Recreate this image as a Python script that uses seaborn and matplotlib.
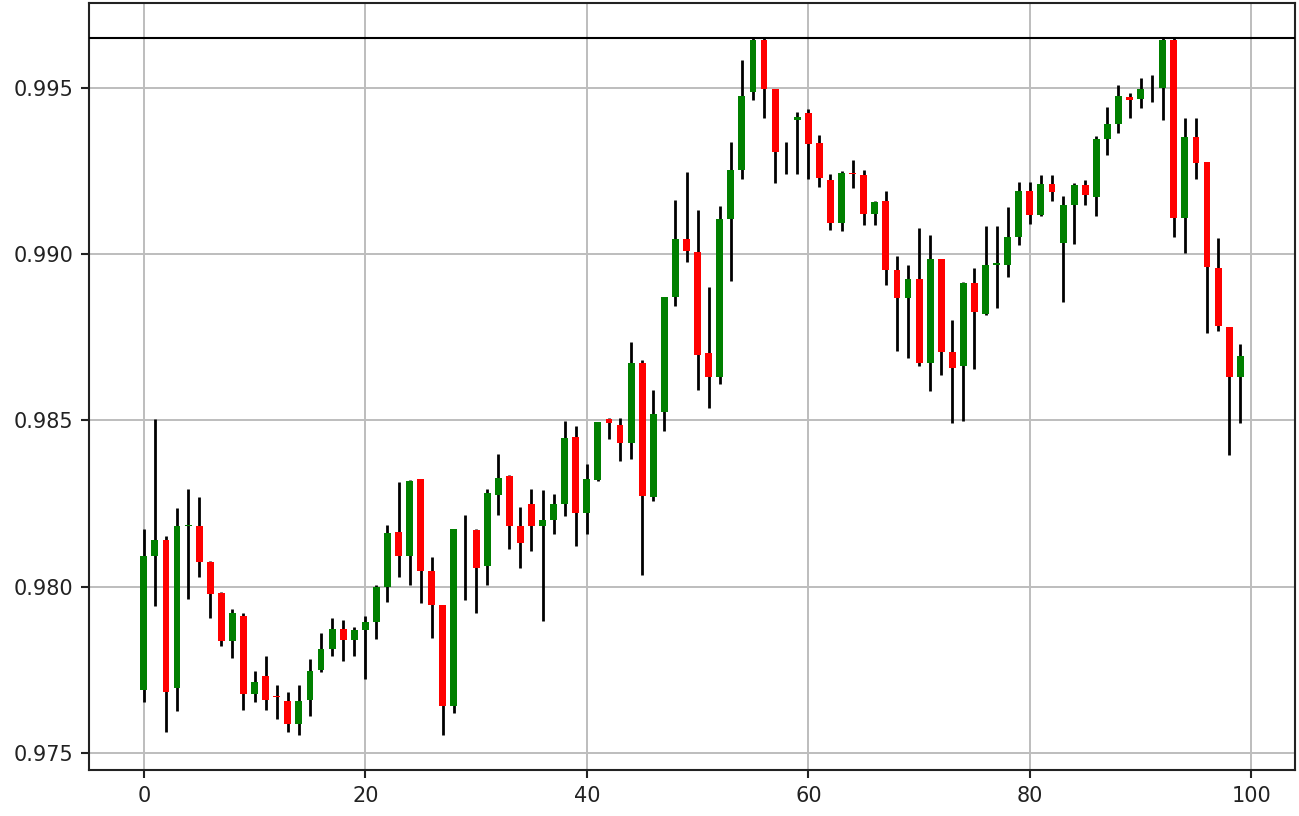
import numpy as np
import pandas as pd
import matplotlib
matplotlib.use("Agg")
import matplotlib.pyplot as plt
import seaborn as sns

opens = [0.97691, 0.98092, 0.98139, 0.97696, 0.98183, 0.98183, 0.98075, 0.97982, 0.97836, 0.97911,
         0.97678, 0.97733, 0.97673, 0.97658, 0.97587, 0.97661, 0.97749, 0.97814, 0.97874, 0.97841,
         0.97869, 0.97893, 0.97999, 0.98164, 0.98092, 0.98323, 0.98047, 0.97944, 0.97640, 0.98080,
         0.98171, 0.98062, 0.98276, 0.98333, 0.98183, 0.98248, 0.98183, 0.98200, 0.98248, 0.98449,
         0.98223, 0.98321, 0.98504, 0.98486, 0.98432, 0.98672, 0.98271, 0.98524, 0.98872, 0.99046,
         0.99006, 0.98703, 0.98630, 0.99104, 0.99254, 0.99486, 0.99643, 0.99495, 0.99300, 0.99402,
         0.99423, 0.99334, 0.99224, 0.99093, 0.99245, 0.99239, 0.99121, 0.99158, 0.98953, 0.98868,
         0.98926, 0.98672, 0.98986, 0.98705, 0.98663, 0.98914, 0.98820, 0.98966, 0.98968, 0.99051,
         0.99190, 0.99116, 0.99212, 0.99033, 0.99146, 0.99207, 0.99172, 0.99347, 0.99392, 0.99473,
         0.99465, 0.99500, 0.99500, 0.99643, 0.99109, 0.99352, 0.99277, 0.98958, 0.98780, 0.98630]
closes = [0.98092, 0.98139, 0.97683, 0.98183, 0.98186, 0.98075, 0.97979, 0.97836, 0.97922, 0.97678,
          0.97713, 0.97661, 0.97669, 0.97587, 0.97658, 0.97748, 0.97814, 0.97874, 0.97841, 0.97869,
          0.97893, 0.97999, 0.98160, 0.98092, 0.98318, 0.98047, 0.97945, 0.97640, 0.98173, 0.98080,
          0.98057, 0.98283, 0.98328, 0.98183, 0.98130, 0.98183, 0.98200, 0.98248, 0.98446, 0.98223,
          0.98323, 0.98494, 0.98491, 0.98431, 0.98672, 0.98273, 0.98519, 0.98872, 0.99046, 0.99008,
          0.98697, 0.98630, 0.99104, 0.99254, 0.99475, 0.99643, 0.99495, 0.99307, 0.99300, 0.99411,
          0.99332, 0.99230, 0.99093, 0.99244, 0.99240, 0.99121, 0.99157, 0.98953, 0.98868, 0.98926,
          0.98671, 0.98986, 0.98705, 0.98658, 0.98914, 0.98825, 0.98966, 0.98973, 0.99051, 0.99189,
          0.99116, 0.99212, 0.99187, 0.99146, 0.99207, 0.99177, 0.99347, 0.99392, 0.99476, 0.99463,
          0.99495, 0.99500, 0.99643, 0.99109, 0.99352, 0.99274, 0.98961, 0.98785, 0.98630, 0.98695]
highs = [0.98173, 0.98504, 0.98152, 0.98236, 0.98293, 0.98271, 0.98077, 0.97983, 0.97934, 0.97922,
         0.97748, 0.97791, 0.97704, 0.97683, 0.97704, 0.97784, 0.97861, 0.97907, 0.97899, 0.97880,
         0.97911, 0.98005, 0.98186, 0.98315, 0.98320, 0.98323, 0.98090, 0.97944, 0.98175, 0.98215,
         0.98173, 0.98295, 0.98398, 0.98335, 0.98240, 0.98295, 0.98290, 0.98280, 0.98497, 0.98484,
         0.98368, 0.98496, 0.98507, 0.98507, 0.98735, 0.98682, 0.98592, 0.98872, 0.99161, 0.99247,
         0.99132, 0.98902, 0.99143, 0.99337, 0.99583, 0.99649, 0.99649, 0.99495, 0.99337, 0.99428,
         0.99435, 0.99357, 0.99242, 0.99249, 0.99282, 0.99254, 0.99158, 0.99190, 0.98994, 0.98966,
         0.99078, 0.99058, 0.98986, 0.98802, 0.98916, 0.98958, 0.99084, 0.99084, 0.99142, 0.99217,
         0.99217, 0.99237, 0.99237, 0.99175, 0.99214, 0.99222, 0.99355, 0.99443, 0.99508, 0.99483,
         0.99530, 0.99538, 0.99649, 0.99649, 0.99408, 0.99410, 0.99277, 0.99048, 0.98781, 0.98730]
lows = [0.97655, 0.97942, 0.97562, 0.97625, 0.97962, 0.98030, 0.97907, 0.97823, 0.97786, 0.97630,
        0.97655, 0.97628, 0.97602, 0.97563, 0.97553, 0.97610, 0.97743, 0.97793, 0.97776, 0.97791,
        0.97723, 0.97844, 0.97955, 0.98030, 0.98004, 0.97950, 0.97846, 0.97555, 0.97620, 0.97960,
        0.97922, 0.98004, 0.98215, 0.98112, 0.98057, 0.98107, 0.97896, 0.98158, 0.98213, 0.98122,
        0.98158, 0.98318, 0.98444, 0.98378, 0.98383, 0.98034, 0.98258, 0.98469, 0.98845, 0.98976,
        0.98591, 0.98536, 0.98609, 0.98919, 0.99227, 0.99463, 0.99408, 0.99215, 0.99240, 0.99240,
        0.99227, 0.99202, 0.99071, 0.99069, 0.99199, 0.99086, 0.99086, 0.98908, 0.98710, 0.98687,
        0.98664, 0.98589, 0.98636, 0.98492, 0.98497, 0.98654, 0.98817, 0.98837, 0.98931, 0.99028,
        0.99089, 0.99113, 0.99158, 0.98857, 0.99031, 0.99146, 0.99113, 0.99299, 0.99364, 0.99410,
        0.99438, 0.99458, 0.99402, 0.99051, 0.99004, 0.99227, 0.98763, 0.98770, 0.98396, 0.98491]

df = pd.DataFrame({"open": opens, "close": closes, "high": highs, "low": lows})
df["day"] = np.arange(len(df))
df["body"] = (df["close"] - df["open"]).abs()
df["base"] = df[["open", "close"]].min(axis=1)
df["color"] = np.where(df["close"] >= df["open"], "green", "red")

sns.set_theme(style="whitegrid", rc={
    "axes.edgecolor": "#222222",
    "axes.linewidth": 1.5,
    "grid.color": "#bdbdbd",
    "grid.linewidth": 1.4,
    "xtick.bottom": True,
    "ytick.left": True,
    "xtick.major.size": 6,
    "ytick.major.size": 6,
    "xtick.major.width": 1.5,
    "ytick.major.width": 1.5,
    "xtick.color": "#222222",
    "ytick.color": "#222222",
})
plt.rcParams["font.family"] = ["DejaVu Sans"]

fig, ax = plt.subplots(figsize=(12.99, 8.16), dpi=100)
fig.subplots_adjust(left=0.0685, right=0.997, top=0.996, bottom=0.056)

# wicks first, bodies on top
ax.vlines(df["day"], df["low"], df["high"], color="black", lw=2, zorder=2)
ax.bar(df["day"], df["body"], bottom=df["base"], width=0.62, color=df["color"],
       linewidth=0, zorder=3)
ax.axhline(df["high"].max(), color="black", lw=1.5, zorder=4)

n = len(df)
ax.set_xlim(-0.05 * (n - 1), 1.05 * (n - 1))
ax.set_xticks([0, 20, 40, 60, 80, 100])
ax.set_yticks([0.975, 0.980, 0.985, 0.990, 0.995])
ax.set_yticklabels(["0.975", "0.980", "0.985", "0.990", "0.995"])
ax.tick_params(labelsize=15, pad=5)
for s in ax.spines.values():
    s.set_visible(True)

fig.savefig("out.png", dpi=100)
